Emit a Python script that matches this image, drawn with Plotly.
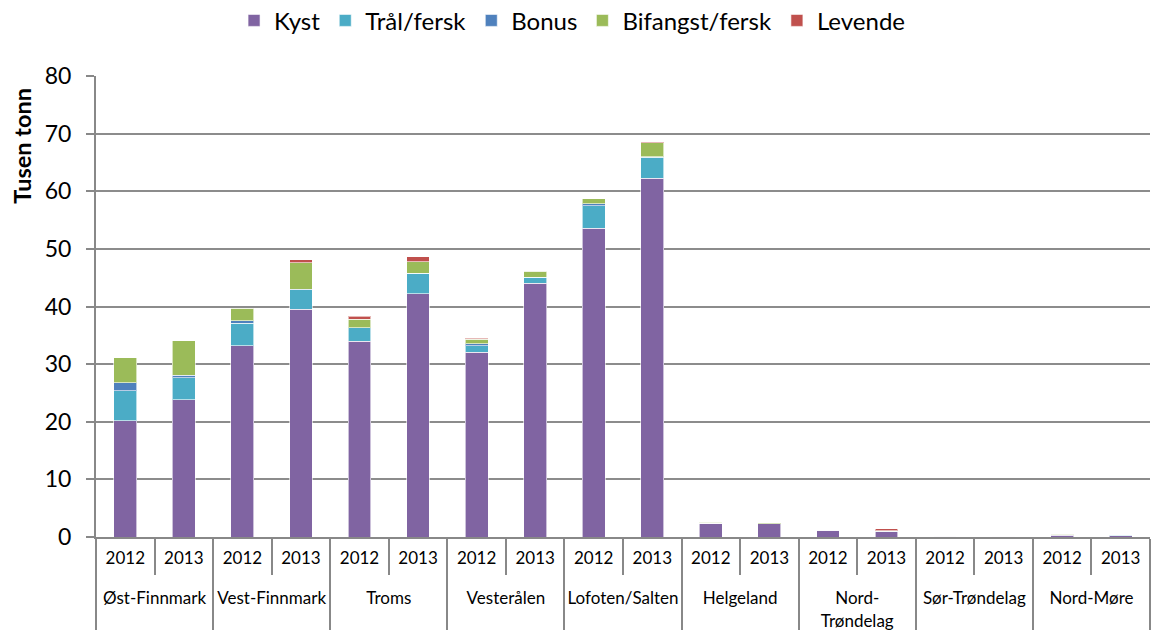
import plotly.graph_objects as go

regions = ["Øst-Finnmark", "Vest-Finnmark", "Troms", "Vesterålen", "Lofoten/Salten",
           "Helgeland", "Nord-<br>Trøndelag", "Sør-Trøndelag", "Nord-Møre"]
years = ["2012", "2013"]

kyst     = [20.2, 23.8, 33.2, 39.5, 34.0, 42.2, 32.1, 44.0, 53.6, 62.3, 2.4, 2.3, 1.2, 0.9, 0.1, 0.1, 0.3, 0.2]
traal    = [5.2, 3.8, 3.9, 3.4, 2.3, 3.6, 1.1, 1.1, 3.9, 3.6, 0.0, 0.0, 0.0, 0.1, 0.0, 0.0, 0.1, 0.1]
bonus    = [1.4, 0.45, 0.4, 0.1, 0.0, 0.0, 0.3, 0.0, 0.3, 0.1, 0.0, 0.0, 0.0, 0.0, 0.0, 0.0, 0.0, 0.1]
bifangst = [4.3, 6.0, 2.2, 4.6, 1.5, 2.0, 0.8, 1.0, 0.9, 2.4, 0.2, 0.2, 0.1, 0.1, 0.1, 0.0, 0.1, 0.0]
levende  = [0.0, 0.0, 0.0, 0.5, 0.5, 0.8, 0.2, 0.1, 0.0, 0.1, 0.0, 0.0, 0.0, 0.3, 0.0, 0.0, 0.0, 0.0]

series = [("Kyst", kyst, "#8064A2"), ("Trål/fersk", traal, "#4BACC6"),
          ("Bonus", bonus, "#4F81BD"), ("Bifangst/fersk", bifangst, "#9BBB59"),
          ("Levende", levende, "#C0504D")]

outer = [r for r in regions for _ in years]
# trailing blank line gives the extra row spacing seen in the reference
inner = [y + "<br> " for _ in regions for y in years]

fig = go.Figure()
for name, vals, col in series:
    fig.add_trace(go.Bar(x=[outer, inner], y=vals, name=name,
                         marker=dict(color=col, line=dict(color="rgba(255,255,255,0.6)", width=1))))

FONT = "Lato, Calibri, sans-serif"
fig.update_layout(
    barmode="stack", bargap=0.61,
    width=1151, height=630,
    margin=dict(l=96, r=1, t=76, b=93),
    plot_bgcolor="white", paper_bgcolor="white",
    font=dict(family=FONT, color="black"),
    legend=dict(orientation="h", x=0.497, xanchor="center", xref="container",
                y=0.967, yanchor="middle", yref="container",
                font=dict(size=24), traceorder="normal", itemwidth=30),
    xaxis=dict(type="multicategory", showline=True, linecolor="#888888", linewidth=2,
               tickfont=dict(size=17), ticks="outside", tickson="boundaries", ticklen=36,
               tickcolor="#888888", tickwidth=2, automargin=False, ticklabelstandoff=5,
               showdividers=True, dividercolor="#888888", dividerwidth=2, showgrid=False),
    yaxis=dict(range=[0, 80], dtick=10, showgrid=True, gridcolor="#8c8c8c", gridwidth=2,
               showline=True, linecolor="#888888", linewidth=2, ticks="outside",
               tickcolor="#888888", ticklen=8, tickwidth=2, tickfont=dict(size=23),
               ticklabelstandoff=10, zeroline=False, automargin=False),
    annotations=[dict(text="<b>Tusen tonn</b>", textangle=-90, xref="paper", yref="paper",
                      x=-0.0705, y=0.848, xanchor="center", yanchor="middle",
                      showarrow=False, font=dict(size=23.5))],
)
fig.write_html("out.html", config={"displayModeBar": False},
               post_script="document.body.style.margin='0';")
